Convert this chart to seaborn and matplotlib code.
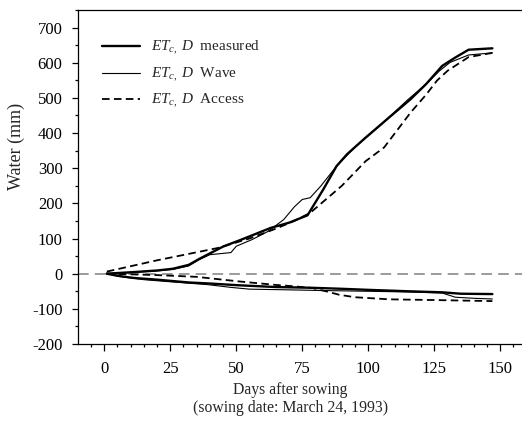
import pandas as pd
import numpy as np
import seaborn as sns
import matplotlib.pyplot as plt

sns.set_style('ticks')
plt.rcParams['font.family'] = ['Liberation Serif', 'DejaVu Serif']
plt.rcParams['mathtext.fontset'] = 'custom'
plt.rcParams['mathtext.rm'] = 'Liberation Serif'
plt.rcParams['mathtext.it'] = 'Liberation Serif:italic'
plt.rcParams['axes.unicode_minus'] = False

# ET_c (positive) curves
et_meas_days = [1, 10, 20, 26, 32, 36, 45, 52, 63, 70, 77, 83, 88, 92, 99, 108, 116, 122, 128, 133, 138, 147]
et_meas = [0, 4, 9, 14, 25, 42, 77, 97, 130, 145, 166, 240, 306, 340, 387, 445, 496, 540, 591, 615, 637, 641]

et_wave_days = [1, 10, 20, 26, 32, 36, 40, 48, 50, 56, 62, 68, 72, 75, 78, 82, 88, 95, 105, 115, 122, 127, 131, 138, 147]
et_wave = [0, 3, 8, 12, 22, 40, 54, 60, 78, 97, 120, 154, 190, 211, 216, 249, 306, 360, 425, 495, 540, 577, 601, 622, 628]

et_access_days = [1, 20, 43, 55, 65, 72, 78, 90, 99, 106, 116, 122, 126, 130, 138, 147]
et_access = [6, 38, 73, 100, 128, 150, 173, 250, 320, 359, 458, 510, 549, 577, 616, 628]

# D (negative) curves
d_meas_days = [1, 5, 11, 20, 32, 40, 51, 65, 78, 90, 100, 115, 128, 135, 147]
d_meas = [0, -6, -12, -17, -25, -28, -33, -38, -40, -43, -46, -50, -53, -57, -58]

d_wave_days = [1, 6, 15, 25, 39, 48, 55, 70, 83, 100, 115, 128, 133, 140, 147]
d_wave = [0, -8, -17, -23, -31, -39, -44, -46, -48, -50, -52, -55, -67, -70, -72]

d_access_days = [1, 20, 35, 51, 65, 72, 79, 85, 89, 95, 108, 125, 147]
d_access = [0, -4, -9, -22, -32, -36, -41, -52, -60, -67, -73, -75, -78]

fig = plt.figure(figsize=(5.22, 4.25), dpi=100)
ax = fig.add_axes([0.149, 0.1906, 0.86, 0.7859])

ax.axhline(0, color='#808080', lw=1.1, dashes=(7, 4), zorder=1)

sns.lineplot(x=et_meas_days, y=et_meas, ax=ax, color='black', lw=1.7, label=r'$ET_{c,}\;D$  measured')
sns.lineplot(x=et_wave_days, y=et_wave, ax=ax, color='black', lw=0.8, label=r'$ET_{c,}\;D$  Wave')
sns.lineplot(x=et_access_days, y=et_access, ax=ax, color='black', lw=1.3,
             label=r'$ET_{c,}\;D$  Access').lines[-1].set_dashes((4.2, 2.4))
sns.lineplot(x=d_meas_days, y=d_meas, ax=ax, color='black', lw=1.7)
sns.lineplot(x=d_wave_days, y=d_wave, ax=ax, color='black', lw=0.8)
sns.lineplot(x=d_access_days, y=d_access, ax=ax, color='black', lw=1.3).lines[-1].set_dashes((4.2, 2.4))

ax.set_xlim(-10, 160)
ax.set_ylim(-200, 750)
ax.set_xticks(np.arange(0, 151, 25))
ax.set_xticks(np.arange(-5, 160, 5), minor=True)
ax.set_yticks(np.arange(-200, 701, 100))
ax.set_yticks(np.arange(-200, 751, 50), minor=True)
ax.tick_params(axis='both', which='major', labelsize=12, direction='out', color='black', labelcolor='black', width=0.9)
ax.tick_params(axis='x', which='major', length=5, pad=7)
ax.tick_params(axis='y', which='major', length=4, pad=7)
ax.tick_params(axis='both', which='minor', length=2, width=0.9, color='black')
for s in ['left', 'bottom', 'top']:
    ax.spines[s].set_color('black')
    ax.spines[s].set_linewidth(0.9)
ax.spines['right'].set_visible(False)

ax.set_xlabel('Days after sowing\n(sowing date: March 24, 1993)', fontsize=11.3, linespacing=1.1)
ax.xaxis.set_label_coords(0.473, -0.115)
ax.set_ylabel('Water (mm)', fontsize=13)
ax.yaxis.set_label_coords(-0.118, 0.59)

ax.legend(loc='upper left', bbox_to_anchor=(0.054, 0.913), frameon=False, fontsize=11,
          handlelength=2.5, handletextpad=0.7, labelspacing=0.55, borderaxespad=0, borderpad=0)

fig.savefig('out.png', dpi=100)
